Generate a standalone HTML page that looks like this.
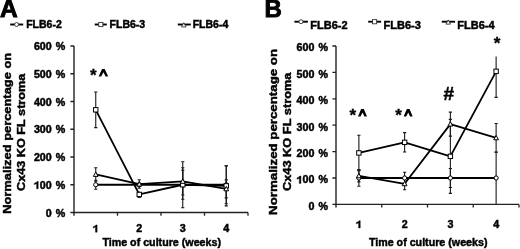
<!DOCTYPE html><html><head><meta charset="utf-8"><style>html,body{margin:0;padding:0;background:#fff;width:520px;height:249px;overflow:hidden}svg{display:block;filter:grayscale(1) blur(0.3px)}text{font-family:"Liberation Sans",sans-serif;font-weight:bold;font-size:10.7px;fill:#000;stroke:#000;stroke-width:0.45px}</style></head><body>
<svg width="520" height="249" viewBox="0 0 520 249">
<rect width="520" height="249" fill="#fff"/>
<text x="0" y="17.3" style="font-size:24.5px;stroke-width:0.9px">A</text>
<text x="264.6" y="17.2" style="font-size:24px;stroke-width:0.9px">B</text>
<path d="M10.2 24.5 H23.2" stroke="#000" stroke-width="1.9"/>
<circle cx="16.60" cy="24.50" r="1.99" fill="#fff" stroke="#333" stroke-width="0.9"/>
<text x="26.2" y="28.4" style="font-size:10.5px">FLB6-2</text>
<path d="M94.7 24.5 H106.8" stroke="#000" stroke-width="1.9"/>
<rect x="98.71" y="22.41" width="4.18" height="4.18" fill="#fff" stroke="#333" stroke-width="0.9"/>
<text x="109.6" y="28.4" style="font-size:10.5px">FLB6-3</text>
<path d="M177.8 24.5 H190.8" stroke="#000" stroke-width="1.9"/>
<path d="M183.80 22.73 L186.08 26.91 L181.52 26.91 Z" fill="#fff" stroke="#333" stroke-width="0.9" stroke-linejoin="miter"/>
<text x="192.7" y="28.4" style="font-size:10.5px">FLB6-4</text>
<path d="M294.4 21.7 H307.9" stroke="#000" stroke-width="1.9"/>
<circle cx="301.00" cy="21.70" r="1.99" fill="#fff" stroke="#333" stroke-width="0.9"/>
<text x="310.3" y="28.9" style="font-size:11.0px">FLB6-2</text>
<path d="M368.2 21.7 H381.1" stroke="#000" stroke-width="1.9"/>
<rect x="372.51" y="19.61" width="4.18" height="4.18" fill="#fff" stroke="#333" stroke-width="0.9"/>
<text x="383.6" y="28.9" style="font-size:11.0px">FLB6-3</text>
<path d="M441.8 21.7 H455.1" stroke="#000" stroke-width="1.9"/>
<path d="M448.20 19.93 L450.48 24.11 L445.92 24.11 Z" fill="#fff" stroke="#333" stroke-width="0.9" stroke-linejoin="miter"/>
<text x="457.3" y="28.9" style="font-size:11.0px">FLB6-4</text>
<text transform="translate(10.8,213.8) rotate(-90) scale(1.1706,1)" style="font-size:11.0px">Normalized percentage on</text>
<text transform="translate(25.3,191.0) rotate(-90) scale(1.1523,1)" style="font-size:11.0px">Cx43 KO FL stroma</text>
<text transform="translate(276.9,214.9) rotate(-90) scale(1.2070,1)" style="font-size:11.0px">Normalized percentage on</text>
<text transform="translate(291.2,191.0) rotate(-90) scale(1.1631,1)" style="font-size:11.0px">Cx43 KO FL stroma</text>
<path d="M74 46.00 V215.70 M74 212.50 H248" stroke="#222" stroke-width="1.4" fill="none"/>
<path d="M70.4 212.50 H74 M70.4 184.75 H74 M70.4 157.00 H74 M70.4 129.25 H74 M70.4 101.50 H74 M70.4 73.75 H74 M70.4 46.00 H74 M117.50 212.50 V215.70 M161.00 212.50 V215.70 M204.50 212.50 V215.70 M248.00 212.50 V215.70 " stroke="#222" stroke-width="1.3" fill="none"/>
<g transform="translate(45.80,216.50) scale(1.05,1)">
<text x="0" y="0" style="font-size:10.2px;word-spacing:1.0px">0 %</text>
</g>
<g transform="translate(33.88,188.75) scale(1.05,1)">
<text x="0" y="0" style="font-size:10.2px;word-spacing:1.0px">&#8199;00 %</text>
<path d="M4.13 0.00 L4.13 -7.30 L2.96 -7.30 L2.19 -6.32 L0.41 -5.41 L0.41 -4.13 L2.60 -5.10 L2.60 0.00 Z" fill="#000" stroke="#000" stroke-width="0.4" stroke-linejoin="round"/>
</g>
<g transform="translate(33.88,161.00) scale(1.05,1)">
<text x="0" y="0" style="font-size:10.2px;word-spacing:1.0px">200 %</text>
</g>
<g transform="translate(33.88,133.25) scale(1.05,1)">
<text x="0" y="0" style="font-size:10.2px;word-spacing:1.0px">300 %</text>
</g>
<g transform="translate(33.88,105.50) scale(1.05,1)">
<text x="0" y="0" style="font-size:10.2px;word-spacing:1.0px">400 %</text>
</g>
<g transform="translate(33.88,77.75) scale(1.05,1)">
<text x="0" y="0" style="font-size:10.2px;word-spacing:1.0px">500 %</text>
</g>
<g transform="translate(33.88,50.00) scale(1.05,1)">
<text x="0" y="0" style="font-size:10.2px;word-spacing:1.0px">600 %</text>
</g>
<g transform="translate(92.77,232.20) scale(1.05,1)">
<text x="0" y="0" style="font-size:10.2px">&#8199;</text>
<path d="M4.13 0.00 L4.13 -7.30 L2.96 -7.30 L2.19 -6.32 L0.41 -5.41 L0.41 -4.13 L2.60 -5.10 L2.60 0.00 Z" fill="#000" stroke="#000" stroke-width="0.4" stroke-linejoin="round"/>
</g>
<g transform="translate(136.27,232.20) scale(1.05,1)">
<text x="0" y="0" style="font-size:10.2px">2</text>
</g>
<g transform="translate(179.77,232.20) scale(1.05,1)">
<text x="0" y="0" style="font-size:10.2px">3</text>
</g>
<g transform="translate(223.27,232.20) scale(1.05,1)">
<text x="0" y="0" style="font-size:10.2px">4</text>
</g>
<text x="161.7" y="245.6" text-anchor="middle">Time of culture (weeks)</text>
<path d="M336 46.00 V207.60 M336 204.40 H519" stroke="#222" stroke-width="1.4" fill="none"/>
<path d="M332.4 204.40 H336 M332.4 178.00 H336 M332.4 151.60 H336 M332.4 125.20 H336 M332.4 98.80 H336 M332.4 72.40 H336 M332.4 46.00 H336 M381.75 204.40 V207.60 M427.50 204.40 V207.60 M473.25 204.40 V207.60 M519.00 204.40 V207.60 " stroke="#222" stroke-width="1.3" fill="none"/>
<g transform="translate(308.50,209.80) scale(1.05,1)">
<text x="0" y="0" style="font-size:10.2px;word-spacing:1.0px">0 %</text>
</g>
<g transform="translate(296.58,183.40) scale(1.05,1)">
<text x="0" y="0" style="font-size:10.2px;word-spacing:1.0px">&#8199;00 %</text>
<path d="M4.13 0.00 L4.13 -7.30 L2.96 -7.30 L2.19 -6.32 L0.41 -5.41 L0.41 -4.13 L2.60 -5.10 L2.60 0.00 Z" fill="#000" stroke="#000" stroke-width="0.4" stroke-linejoin="round"/>
</g>
<g transform="translate(296.58,157.00) scale(1.05,1)">
<text x="0" y="0" style="font-size:10.2px;word-spacing:1.0px">200 %</text>
</g>
<g transform="translate(296.58,130.60) scale(1.05,1)">
<text x="0" y="0" style="font-size:10.2px;word-spacing:1.0px">300 %</text>
</g>
<g transform="translate(296.58,104.20) scale(1.05,1)">
<text x="0" y="0" style="font-size:10.2px;word-spacing:1.0px">400 %</text>
</g>
<g transform="translate(296.58,77.80) scale(1.05,1)">
<text x="0" y="0" style="font-size:10.2px;word-spacing:1.0px">500 %</text>
</g>
<g transform="translate(296.58,51.40) scale(1.05,1)">
<text x="0" y="0" style="font-size:10.2px;word-spacing:1.0px">600 %</text>
</g>
<g transform="translate(355.90,228.00) scale(1.05,1)">
<text x="0" y="0" style="font-size:10.2px">&#8199;</text>
<path d="M4.13 0.00 L4.13 -7.30 L2.96 -7.30 L2.19 -6.32 L0.41 -5.41 L0.41 -4.13 L2.60 -5.10 L2.60 0.00 Z" fill="#000" stroke="#000" stroke-width="0.4" stroke-linejoin="round"/>
</g>
<g transform="translate(401.65,228.00) scale(1.05,1)">
<text x="0" y="0" style="font-size:10.2px">2</text>
</g>
<g transform="translate(447.40,228.00) scale(1.05,1)">
<text x="0" y="0" style="font-size:10.2px">3</text>
</g>
<g transform="translate(493.15,228.00) scale(1.05,1)">
<text x="0" y="0" style="font-size:10.2px">4</text>
</g>
<text x="428.2" y="245.6" text-anchor="middle">Time of culture (weeks)</text>
<path d="M95.75 92.02 V127.62 M94.15 92.02 H97.35 M94.15 127.62 H97.35" stroke="#1a1a1a" stroke-width="1.1" fill="none"/>
<path d="M139.25 191.46 V197.46 M137.65 197.46 H140.85" stroke="#1a1a1a" stroke-width="1.1" fill="none"/>
<path d="M182.75 170.25 V199.25 M181.15 170.25 H184.35 M181.15 199.25 H184.35" stroke="#1a1a1a" stroke-width="1.1" fill="none"/>
<path d="M226.25 165.86 V205.86 M224.65 165.86 H227.85 M224.65 205.86 H227.85" stroke="#1a1a1a" stroke-width="1.1" fill="none"/>
<path d="M95.75 180.25 V189.25 M94.15 180.25 H97.35 M94.15 189.25 H97.35" stroke="#1a1a1a" stroke-width="1.1" fill="none"/>
<path d="M139.25 181.75 V187.75" stroke="#1a1a1a" stroke-width="1.1" fill="none"/>
<path d="M182.75 161.75 V207.75 M181.15 161.75 H184.35 M181.15 207.75 H184.35" stroke="#1a1a1a" stroke-width="1.1" fill="none"/>
<path d="M226.25 165.75 V203.75 M224.65 165.75 H227.85 M224.65 203.75 H227.85" stroke="#1a1a1a" stroke-width="1.1" fill="none"/>
<path d="M95.75 167.68 V181.28 M94.15 167.68 H97.35 M94.15 181.28 H97.35" stroke="#1a1a1a" stroke-width="1.1" fill="none"/>
<path d="M139.25 179.79 V188.19 M137.65 179.79 H140.85 M137.65 188.19 H140.85" stroke="#1a1a1a" stroke-width="1.1" fill="none"/>
<path d="M182.75 167.82 V195.02 M181.15 167.82 H184.35 M181.15 195.02 H184.35" stroke="#1a1a1a" stroke-width="1.1" fill="none"/>
<path d="M226.25 179.91 V197.91 M224.65 179.91 H227.85 M224.65 197.91 H227.85" stroke="#1a1a1a" stroke-width="1.1" fill="none"/>
<path d="M95.75 184.75 L139.25 184.75 L182.75 184.75 L226.25 184.75" stroke="#000" stroke-width="1.8" fill="none" stroke-linejoin="round"/>
<path d="M95.75 109.82 L139.25 194.46 L182.75 184.75 L226.25 185.86" stroke="#000" stroke-width="1.8" fill="none" stroke-linejoin="round"/>
<path d="M95.75 174.48 L139.25 184.19 L182.75 181.42 L226.25 188.91" stroke="#000" stroke-width="1.8" fill="none" stroke-linejoin="round"/>
<circle cx="95.75" cy="184.75" r="2.10" fill="#fff" stroke="#000" stroke-width="1.0"/>
<circle cx="139.25" cy="184.75" r="2.10" fill="#fff" stroke="#000" stroke-width="1.0"/>
<circle cx="182.75" cy="184.75" r="2.10" fill="#fff" stroke="#000" stroke-width="1.0"/>
<circle cx="226.25" cy="184.75" r="2.10" fill="#fff" stroke="#000" stroke-width="1.0"/>
<rect x="93.55" y="107.62" width="4.40" height="4.40" fill="#fff" stroke="#000" stroke-width="1.0"/>
<rect x="137.05" y="192.26" width="4.40" height="4.40" fill="#fff" stroke="#000" stroke-width="1.0"/>
<rect x="180.55" y="182.55" width="4.40" height="4.40" fill="#fff" stroke="#000" stroke-width="1.0"/>
<rect x="224.05" y="183.66" width="4.40" height="4.40" fill="#fff" stroke="#000" stroke-width="1.0"/>
<path d="M95.75 171.98 L98.15 176.38 L93.35 176.38 Z" fill="#fff" stroke="#000" stroke-width="1.0" stroke-linejoin="miter"/>
<path d="M139.25 181.69 L141.65 186.09 L136.85 186.09 Z" fill="#fff" stroke="#000" stroke-width="1.0" stroke-linejoin="miter"/>
<path d="M182.75 178.92 L185.15 183.32 L180.35 183.32 Z" fill="#fff" stroke="#000" stroke-width="1.0" stroke-linejoin="miter"/>
<path d="M226.25 186.41 L228.65 190.81 L223.85 190.81 Z" fill="#fff" stroke="#000" stroke-width="1.0" stroke-linejoin="miter"/>
<path d="M358.88 135.22 V170.62 M357.27 135.22 H360.48 M357.27 170.62 H360.48" stroke="#1a1a1a" stroke-width="1.1" fill="none"/>
<path d="M404.62 132.66 V152.06 M403.02 132.66 H406.23 M403.02 152.06 H406.23" stroke="#1a1a1a" stroke-width="1.1" fill="none"/>
<path d="M450.38 119.35 V193.35 M448.77 119.35 H451.98 M448.77 193.35 H451.98" stroke="#1a1a1a" stroke-width="1.1" fill="none"/>
<path d="M496.12 56.54 V97.34 M494.52 97.34 H497.73" stroke="#1a1a1a" stroke-width="1.1" fill="none"/>
<path d="M358.88 169.70 V186.30 M357.27 169.70 H360.48 M357.27 186.30 H360.48" stroke="#1a1a1a" stroke-width="1.1" fill="none"/>
<path d="M404.62 172.20 V183.80 M403.02 172.20 H406.23 M403.02 183.80 H406.23" stroke="#1a1a1a" stroke-width="1.1" fill="none"/>
<path d="M450.38 168.50 V187.50 M448.77 168.50 H451.98 M448.77 187.50 H451.98" stroke="#1a1a1a" stroke-width="1.1" fill="none"/>
<path d="M496.12 152.00 V204.00 M494.52 152.00 H497.73" stroke="#1a1a1a" stroke-width="1.1" fill="none"/>
<path d="M358.88 169.89 V181.89 M357.27 169.89 H360.48 M357.27 181.89 H360.48" stroke="#1a1a1a" stroke-width="1.1" fill="none"/>
<path d="M404.62 178.81 V189.81 M403.02 189.81 H406.23" stroke="#1a1a1a" stroke-width="1.1" fill="none"/>
<path d="M450.38 112.14 V136.14 M448.77 112.14 H451.98 M448.77 136.14 H451.98" stroke="#1a1a1a" stroke-width="1.1" fill="none"/>
<path d="M496.12 123.47 V152.27 M494.52 123.47 H497.73 M494.52 152.27 H497.73" stroke="#1a1a1a" stroke-width="1.1" fill="none"/>
<path d="M358.88 178.00 L404.62 178.00 L450.38 178.00 L496.12 178.00" stroke="#000" stroke-width="1.8" fill="none" stroke-linejoin="round"/>
<path d="M358.88 152.92 L404.62 142.36 L450.38 156.35 L496.12 71.34" stroke="#000" stroke-width="1.8" fill="none" stroke-linejoin="round"/>
<path d="M358.88 175.89 L404.62 183.81 L450.38 124.14 L496.12 137.87" stroke="#000" stroke-width="1.8" fill="none" stroke-linejoin="round"/>
<circle cx="358.88" cy="178.00" r="2.10" fill="#fff" stroke="#000" stroke-width="1.0"/>
<circle cx="404.62" cy="178.00" r="2.10" fill="#fff" stroke="#000" stroke-width="1.0"/>
<circle cx="450.38" cy="178.00" r="2.10" fill="#fff" stroke="#000" stroke-width="1.0"/>
<circle cx="496.12" cy="178.00" r="2.10" fill="#fff" stroke="#000" stroke-width="1.0"/>
<rect x="356.68" y="150.72" width="4.40" height="4.40" fill="#fff" stroke="#000" stroke-width="1.0"/>
<rect x="402.43" y="140.16" width="4.40" height="4.40" fill="#fff" stroke="#000" stroke-width="1.0"/>
<rect x="448.18" y="154.15" width="4.40" height="4.40" fill="#fff" stroke="#000" stroke-width="1.0"/>
<rect x="493.93" y="69.14" width="4.40" height="4.40" fill="#fff" stroke="#000" stroke-width="1.0"/>
<path d="M358.88 173.39 L361.27 177.79 L356.48 177.79 Z" fill="#fff" stroke="#000" stroke-width="1.0" stroke-linejoin="miter"/>
<path d="M404.62 181.31 L407.02 185.71 L402.23 185.71 Z" fill="#fff" stroke="#000" stroke-width="1.0" stroke-linejoin="miter"/>
<path d="M450.38 121.64 L452.77 126.04 L447.98 126.04 Z" fill="#fff" stroke="#000" stroke-width="1.0" stroke-linejoin="miter"/>
<path d="M496.12 135.37 L498.52 139.77 L493.73 139.77 Z" fill="#fff" stroke="#000" stroke-width="1.0" stroke-linejoin="miter"/>
<text x="90.1" y="81.0" style="font-size:17px;stroke-width:0.35px">*</text>
<path d="M98.60 76.50 L102.05 68.90 L104.75 68.90 L108.20 76.50 L105.65 76.50 L103.40 72.30 L101.15 76.50 Z" fill="#000"/>
<text x="349.5" y="121.0" style="font-size:17px;stroke-width:0.35px">*</text>
<path d="M358.00 116.60 L361.15 109.00 L363.85 109.00 L367.00 116.60 L364.45 116.60 L362.50 112.40 L360.55 116.60 Z" fill="#000"/>
<text x="395.3" y="121.0" style="font-size:17px;stroke-width:0.35px">*</text>
<path d="M403.70 116.60 L406.85 109.00 L409.55 109.00 L412.70 116.60 L410.15 116.60 L408.20 112.40 L406.25 116.60 Z" fill="#000"/>
<text x="443.5" y="99.6" style="font-size:19px">#</text>
<text x="493.7" y="48.9" style="font-size:17px;stroke-width:0.35px">*</text>
</svg></body></html>
